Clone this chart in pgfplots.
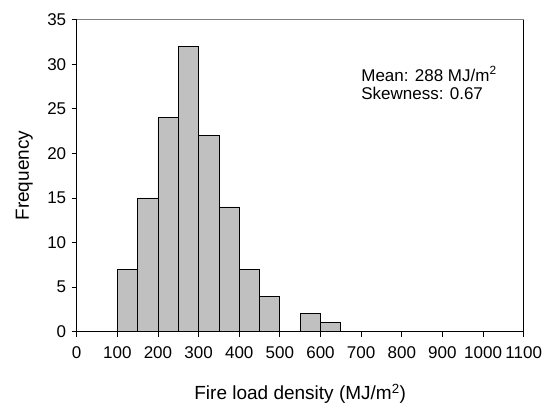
\documentclass[border=0pt]{standalone}
\usepackage{fontspec}
\setmainfont{Liberation Sans}
\usepackage{pgfplots}
\pgfplotsset{compat=1.18}
\definecolor{barfill}{HTML}{C0C0C0}
\begin{document}
\begin{tikzpicture}
\begin{axis}[
  scale only axis,
  width=447pt, height=312pt,
  xmin=0, xmax=1100, ymin=0, ymax=35,
  xtick={0,100,...,1100}, ytick={0,5,...,35},
  tick align=outside, xtick pos=bottom, ytick pos=left,
  major tick length=5pt,
  tick style={black, line width=0.8pt},
  axis line style={line width=0.8pt},
  ticklabel style={font=\fontsize{17}{20}\selectfont},
  /pgf/number format/assume math mode=true,
  /pgf/number format/1000 sep={},
  xlabel={Fire load density (MJ/m\textsuperscript{2})},
  ylabel={Frequency},
  label style={font=\fontsize{19}{22}\selectfont},
  xlabel style={at={([yshift=-67.6pt]axis description cs:0.5,0)}, anchor=base},
  ylabel style={at={([xshift=-47.7pt]axis description cs:0,0.5)}, anchor=base},
  yticklabel style={xshift=-2pt},
  xticklabel style={yshift=-6pt},
]
% bins of width 50, last point closes the interval
\addplot[ybar interval, fill=barfill, draw=black, line width=0.8pt] coordinates {
  (100,7) (150,15) (200,24) (250,32) (300,22) (350,14)
  (400,7) (450,4) (500,0) (550,2) (600,1) (650,1)
};
\node[anchor=base west, inner sep=0, font=\fontsize{17}{20}\selectfont]
  at (axis cs:700,28.1) {Mean: 288 MJ/m\textsuperscript{2}};
\node[anchor=base west, inner sep=0, font=\fontsize{17}{20}\selectfont]
  at (axis cs:700,26.0) {Skewness: 0.67};
\end{axis}
\draw[gray, line width=0.8pt] (current axis.north west) -- (current axis.north east);
\pgfresetboundingbox
\path ([shift={(-76.7pt,-75.3pt)}]current axis.south west) rectangle ++(554pt,407pt);
\end{tikzpicture}
\end{document}
